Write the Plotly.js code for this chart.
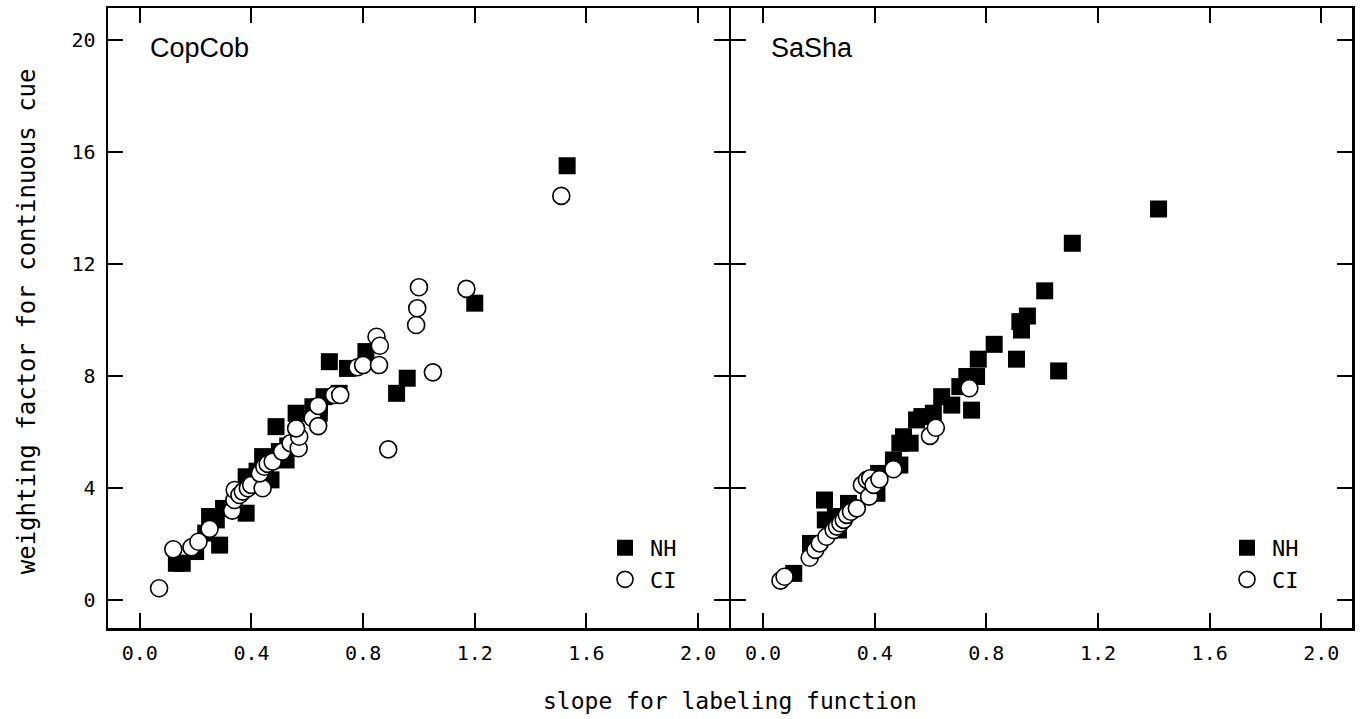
<!DOCTYPE html>
<html>
<head>
<meta charset="utf-8">
<script src="https://cdn.plot.ly/plotly-3.0.1.min.js"></script>
<style>html,body{margin:0;padding:0;background:#fff;}#chart{width:1360px;height:719px;}</style>
</head>
<body>
<div id="chart"></div>
<script>
// ---- data ----
var panelNames = ["CopCob", "SaSha"];
var seriesNames = ["NH", "CI"];
var xTickVals = [0.0, 0.4, 0.8, 1.2, 1.6, 2.0];
var xTickText = ["0.0", "0.4", "0.8", "1.2", "1.6", "2.0"];
var yTickVals = [0, 4, 8, 12, 16, 20];
var yTickText = ["0", "4", "8", "12", "16", "20"];

var copNHx = [0.131, 0.152, 0.2, 0.236, 0.25, 0.274, 0.286, 0.30, 0.381, 0.381, 0.42, 0.44, 0.45, 0.47, 0.488, 0.50, 0.524, 0.53, 0.56, 0.62, 0.643, 0.643, 0.66, 0.679, 0.714, 0.744, 0.81, 0.92, 0.958, 1.2, 1.531];
var copNHy = [1.31, 1.31, 1.73, 2.39, 2.98, 2.86, 1.96, 3.27, 3.1, 4.40, 4.6, 5.12, 4.85, 4.29, 6.19, 5.3, 5.0, 5.5, 6.67, 6.9, 6.67, 6.90, 7.26, 8.51, 7.38, 8.27, 8.87, 7.38, 7.92, 10.6, 15.51];
var copCIx = [0.069, 0.12, 0.185, 0.21, 0.25, 0.331, 0.339, 0.34, 0.357, 0.369, 0.387, 0.399, 0.44, 0.43, 0.446, 0.458, 0.476, 0.51, 0.54, 0.569, 0.571, 0.56, 0.619, 0.639, 0.639, 0.696, 0.718, 0.78, 0.80, 0.857, 0.848, 0.86, 0.89, 0.99, 0.994, 1.0, 1.05, 1.17, 1.51];
var copCIy = [0.42, 1.81, 1.88, 2.08, 2.54, 3.19, 3.57, 3.93, 3.75, 3.87, 3.99, 4.11, 3.99, 4.52, 4.76, 4.86, 4.94, 5.30, 5.6, 5.42, 5.83, 6.13, 6.49, 6.21, 6.93, 7.32, 7.32, 8.31, 8.39, 8.39, 9.40, 9.08, 5.38, 9.82, 10.42, 11.17, 8.13, 11.11, 14.43];

var sasNHx = [0.11, 0.17, 0.22, 0.223, 0.259, 0.27, 0.306, 0.408, 0.414, 0.467, 0.49, 0.49, 0.527, 0.503, 0.55, 0.569, 0.61, 0.64, 0.676, 0.705, 0.73, 0.765, 0.771, 0.747, 0.828, 0.908, 0.92, 0.926, 0.947, 1.009, 1.059, 1.108, 1.417];
var sasNHy = [0.95, 2.02, 3.57, 2.86, 2.98, 2.5, 3.45, 3.81, 4.52, 5.0, 4.82, 5.6, 5.6, 5.83, 6.43, 6.55, 6.67, 7.26, 6.96, 7.62, 7.98, 7.98, 8.6, 6.78, 9.13, 8.6, 9.94, 9.64, 10.14, 11.04, 8.18, 12.74, 13.96];
var sasCIx = [0.0625, 0.077, 0.167, 0.1875, 0.203, 0.227, 0.253, 0.265, 0.277, 0.289, 0.30, 0.315, 0.336, 0.354, 0.372, 0.384, 0.38, 0.396, 0.417, 0.467, 0.598, 0.619, 0.739];
var sasCIy = [0.69, 0.83, 1.51, 1.79, 2.02, 2.26, 2.5, 2.62, 2.74, 2.86, 3.04, 3.15, 3.27, 4.11, 4.29, 4.35, 3.69, 4.11, 4.31, 4.67, 5.86, 6.15, 7.56];

var xTitle = "slope for labeling function";
var yTitle = "weighting factor for continuous cue";

// ---- styling ----
var monoFont = "DejaVu Sans Mono, Liberation Mono, monospace";
var panelFont = "Liberation Sans, Arial, sans-serif";
var nhMarker = {symbol: "square", size: 17, color: "#000", line: {width: 0}};
var ciMarker = {symbol: "circle", size: 17, color: "#fff", line: {width: 1.6, color: "#000"}};

var traces = [
  {type: "scatter", mode: "markers", x: copNHx, y: copNHy, name: seriesNames[0], marker: nhMarker, xaxis: "x", yaxis: "y", legend: "legend"},
  {type: "scatter", mode: "markers", x: copCIx, y: copCIy, name: seriesNames[1], marker: ciMarker, xaxis: "x", yaxis: "y", legend: "legend"},
  {type: "scatter", mode: "markers", x: sasNHx, y: sasNHy, name: seriesNames[0], marker: nhMarker, xaxis: "x2", yaxis: "y2", legend: "legend2"},
  {type: "scatter", mode: "markers", x: sasCIx, y: sasCIy, name: seriesNames[1], marker: ciMarker, xaxis: "x2", yaxis: "y2", legend: "legend2"}
];

function xAx(domain, anchor) {
  return {
    domain: domain, anchor: anchor, range: [-0.114, 2.11],
    tickmode: "array", tickvals: xTickVals, ticktext: xTickText,
    ticks: "inside", ticklen: 15, tickwidth: 2, tickcolor: "#000",
    showline: true, linewidth: 2.5, linecolor: "#000", mirror: "ticks",
    showgrid: false, zeroline: false, ticklabelstandoff: 5,
    tickfont: {family: monoFont, size: 20, color: "#000"}
  };
}
function yAx(anchor, showLabels) {
  return {
    anchor: anchor, range: [-1, 21.14],
    tickmode: "array", tickvals: yTickVals, ticktext: yTickText,
    ticks: "inside", ticklen: 15, tickwidth: 2, tickcolor: "#000",
    showline: true, linewidth: 2.5, linecolor: "#000", mirror: "ticks",
    showgrid: false, zeroline: false, showticklabels: showLabels, ticklabelstandoff: 6,
    tickfont: {family: monoFont, size: 20, color: "#000"}
  };
}

var legendBase = {
  font: {family: monoFont, size: 22, color: "#000"},
  bgcolor: "rgba(0,0,0,0)", borderwidth: 0,
  xref: "paper", yref: "paper", xanchor: "left", yanchor: "top",
  tracegroupgap: 0, itemwidth: 40
};

var layout = {
  width: 1360, height: 719,
  margin: {l: 108, r: 8, t: 8, b: 91},
  paper_bgcolor: "#fff", plot_bgcolor: "#fff",
  showlegend: true,
  xaxis: xAx([0, 0.499], "y"),
  yaxis: yAx("x", true),
  xaxis2: xAx([0.501, 1], "y2"),
  yaxis2: yAx("x2", false),
  legend: Object.assign({}, legendBase, {x: 0.3955, y: 0.163}),
  legend2: Object.assign({}, legendBase, {x: 0.8955, y: 0.163}),
  annotations: [
    {text: panelNames[0], xref: "paper", yref: "paper", x: 0.032, y: 0.936, xanchor: "left", yanchor: "middle", showarrow: false, font: {family: panelFont, size: 27, color: "#000"}},
    {text: panelNames[1], xref: "paper", yref: "paper", x: 0.531, y: 0.936, xanchor: "left", yanchor: "middle", showarrow: false, font: {family: panelFont, size: 27, color: "#000"}},
    {text: xTitle, xref: "paper", yref: "paper", x: 0.5, y: -0.117, xanchor: "center", yanchor: "middle", showarrow: false, font: {family: monoFont, size: 23, color: "#000"}},
    {text: yTitle, xref: "paper", yref: "paper", x: -0.065, y: 0.495, xanchor: "center", yanchor: "middle", textangle: -90, showarrow: false, font: {family: monoFont, size: 24, color: "#000"}}
  ]
};

Plotly.newPlot("chart", traces, layout, {displayModeBar: false, staticPlot: true});
</script>
</body>
</html>
